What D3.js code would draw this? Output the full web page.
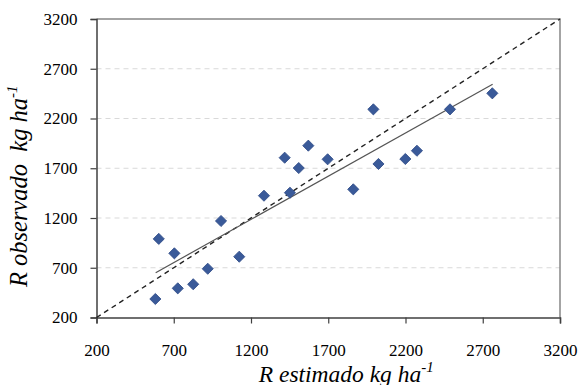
<!DOCTYPE html>
<html>
<head>
  <meta charset="utf-8">
  <title>R observado vs R estimado</title>
  <script src="https://cdnjs.cloudflare.com/ajax/libs/d3/7.8.5/d3.min.js"></script>
</head>
<body style="margin:0">
  <svg id="chart" width="579" height="385"></svg>
  <script>
    // data (kg/ha)
    var estimado = [581, 603, 704, 726, 826, 920, 1006, 1124, 1284, 1418, 1452,
      1509, 1571, 1696, 1862, 1992, 2025, 2199, 2274, 2488, 2762];
    var observado = [386, 990, 845, 493, 534, 690, 1170, 811, 1424, 1806, 1454,
      1702, 1927, 1790, 1488, 2292, 1743, 1793, 1876, 2292, 2453];
    // fitted line endpoints and 1:1 line
    var trendX = [583, 2764], trendY = [650, 2544];
    var oneToOne = [200, 3200];
    var tickValues = [200, 700, 1200, 1700, 2200, 2700, 3200];
    var gridValues = [700, 1200, 1700, 2200, 2700];

    var width = 579, height = 385,
      margin = { left: 96.5, right: 19, top: 19, bottom: 67.5 },
      serif = "Liberation Serif";

    var svg = d3.select("#chart");

    var x = d3.scaleLinear().domain([200, 3200]).range([margin.left, width - margin.right]);
    var y = d3.scaleLinear().domain([200, 3200]).range([height - margin.bottom, margin.top]);

    // dashed horizontal grid
    svg.append("g").selectAll("line")
      .data(gridValues)
      .enter().append("line")
      .attr("x1", x(200)).attr("x2", x(3200))
      .attr("y1", d => y(d)).attr("y2", d => y(d))
      .attr("stroke", "#d9d9d9")
      .attr("stroke-width", 1)
      .attr("stroke-dasharray", "5,4");

    // plot frame (top/right)
    svg.append("path")
      .attr("d", "M" + x(200) + "," + y(3200) + "H" + x(3200) + "V" + y(200))
      .attr("fill", "none")
      .attr("stroke", "#868686")
      .attr("stroke-width", 1.5);

    // axes
    var xAxis = svg.append("g")
      .attr("transform", "translate(0," + y(200) + ")")
      .call(d3.axisBottom(x).tickValues(tickValues).tickSize(6).tickPadding(20).tickFormat(d3.format("d")));
    var yAxis = svg.append("g")
      .attr("transform", "translate(" + x(200) + ",0)")
      .call(d3.axisLeft(y).tickValues(tickValues).tickSize(6).tickPadding(13).tickFormat(d3.format("d")));

    [xAxis, yAxis].forEach(function (g) {
      g.attr("font-family", serif).attr("font-size", 17);
      g.select(".domain").attr("stroke", "#404040").attr("stroke-width", 1.5);
      g.selectAll(".tick line").attr("stroke", "#404040").attr("stroke-width", 1.2);
      g.selectAll(".tick text")
        .attr("font-family", serif)
        .attr("font-size", 17)
        .attr("fill", "#000");
    });

    // 1:1 line
    svg.append("line")
      .attr("x1", x(oneToOne[0])).attr("y1", y(oneToOne[0]))
      .attr("x2", x(oneToOne[1])).attr("y2", y(oneToOne[1]))
      .attr("stroke", "#222")
      .attr("stroke-width", 1.4)
      .attr("stroke-dasharray", "5,4");

    // regression line
    svg.append("line")
      .attr("x1", x(trendX[0])).attr("y1", y(trendY[0]))
      .attr("x2", x(trendX[1])).attr("y2", y(trendY[1]))
      .attr("stroke", "#555")
      .attr("stroke-width", 1.2);

    // diamond markers
    var diamond = d3.symbol().type(d3.symbolSquare).size(62);
    svg.append("g").selectAll("path")
      .data(estimado.map((d, i) => [d, observado[i]]))
      .enter().append("path")
      .attr("d", diamond)
      .attr("transform", d => "translate(" + x(d[0]) + "," + y(d[1]) + ") rotate(45)")
      .attr("fill", "#3A5A99")
      .attr("stroke", "#2F4C88")
      .attr("stroke-width", 0.8);

    // axis titles
    var xt = svg.append("text")
      .attr("x", (x(200) + x(3200)) / 2 + 18)
      .attr("y", 382)
      .attr("text-anchor", "middle")
      .attr("font-family", serif)
      .attr("font-size", 23.5)
      .attr("font-style", "italic");
    xt.append("tspan").text("R estimado kg ha");
    xt.append("tspan").attr("dy", -10).attr("font-size", 15).text("-1");

    var yt = svg.append("text")
      .attr("transform", "translate(27," + ((y(200) + y(3200)) / 2 + 18) + ") rotate(-90)")
      .attr("text-anchor", "middle")
      .attr("font-family", serif)
      .attr("font-size", 24.5)
      .attr("font-style", "italic");
    yt.append("tspan").text("R observado\u00a0 kg ha");
    yt.append("tspan").attr("dy", -10).attr("font-size", 15).text("-1");
  </script>
</body>
</html>
